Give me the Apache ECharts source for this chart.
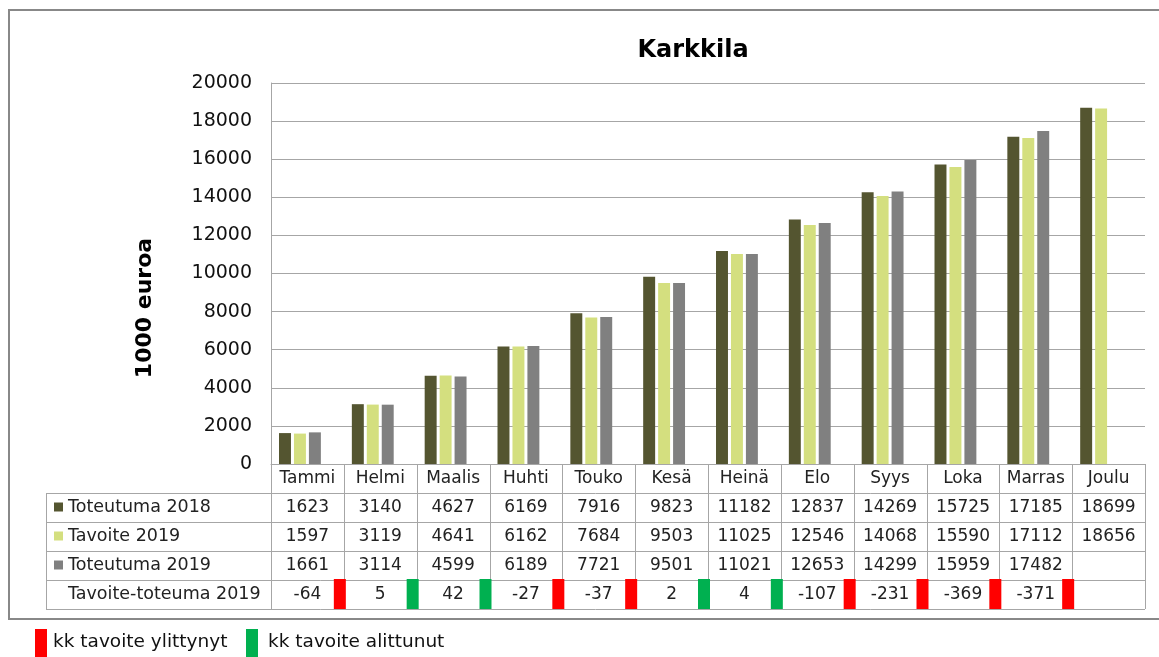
<!DOCTYPE html>
<html>
<head>
<meta charset="utf-8">
<script src="https://cdn.jsdelivr.net/npm/echarts@6/dist/echarts.min.js"></script>
<style>
  html, body { margin: 0; padding: 0; background: #fff; }
  #main { width: 1159px; height: 657px; }
</style>
</head>
<body>
<div id="main"></div>
<script>
const months = ['Tammi', 'Helmi', 'Maalis', 'Huhti', 'Touko', 'Kesä', 'Heinä', 'Elo', 'Syys', 'Loka', 'Marras', 'Joulu'];
const toteuma2018 = [1623, 3140, 4627, 6169, 7916, 9823, 11182, 12837, 14269, 15725, 17185, 18699];
const tavoite2019 = [1597, 3119, 4641, 6162, 7684, 9503, 11025, 12546, 14068, 15590, 17112, 18656];
const toteuma2019 = [1661, 3114, 4599, 6189, 7721, 9501, 11021, 12653, 14299, 15959, 17482, null];
const erotus2019 = [-64, 5, 42, -27, -37, 2, 4, -107, -231, -369, -371, null];
const seriesNames = ['Toteutuma 2018', 'Tavoite 2019', 'Toteutuma 2019', 'Tavoite-toteuma 2019'];
const seriesColors = ['#545530', '#d4df7f', '#808080', 'rgba(0,0,0,0)'];
const legendLabels = ['kk tavoite ylittynyt', 'kk tavoite alittunut'];
const yMin = 0, yMax = 20000, yStep = 2000;

const FONT = '"DejaVu Sans", Verdana, sans-serif';
const RED = '#ff0000';
const GREEN = '#00b050';
const LINE = '#a6a6a6';

const chart = echarts.init(document.getElementById('main'));

const seriesData = [toteuma2018, tavoite2019, toteuma2019, erotus2019];

chart.setOption({
  animation: false,
  textStyle: { fontFamily: FONT },
  title: {
    text: 'Karkkila',
    left: 688,
    top: 34,
    textAlign: 'center',
    textStyle: { fontSize: 24, fontWeight: 'bold', color: '#000', fontFamily: FONT }
  },
  grid: { left: 271, right: 14, top: 83, bottom: 193 },
  xAxis: {
    type: 'category',
    data: months,
    axisLine: { lineStyle: { color: LINE } },
    axisTick: { show: false },
    axisLabel: { interval: 0, margin: 6, fontSize: 17, color: '#222', fontFamily: FONT }
  },
  yAxis: {
    type: 'value',
    min: yMin,
    max: yMax,
    interval: yStep,
    axisLine: { show: true, lineStyle: { color: LINE } },
    splitLine: { lineStyle: { color: LINE } },
    axisLabel: { fontSize: 19, margin: 19, color: '#111', fontFamily: FONT, formatter: v => String(v) }
  },
  series: seriesData.map((d, i) => ({
    name: seriesNames[i],
    type: 'bar',
    data: d,
    barGap: '25%',
    barCategoryGap: '22%',
    itemStyle: { color: seriesColors[i] },
    silent: i === 3
  }))
});

// data table under the axis, placed from the axis's own pixel positions
function buildTable() {
  const centers = months.map((m, i) => chart.convertToPixel({ xAxisIndex: 0 }, i));
  const bw = centers[1] - centers[0];
  const bounds = centers.map(c => c - bw / 2).concat([centers[centers.length - 1] + bw / 2]);
  const yTop = chart.convertToPixel({ yAxisIndex: 0 }, yMin);
  const rowH = 29;
  const tableLeft = 46;
  const rightX = bounds[bounds.length - 1];
  const bottomY = yTop + rowH * 5;
  const g = [];
  const lineStyle = { stroke: LINE, lineWidth: 1 };

  for (let r = 1; r <= 5; r++) {
    const y = Math.round(yTop + rowH * r) + 0.5;
    g.push({ type: 'line', shape: { x1: tableLeft, y1: y, x2: rightX, y2: y }, style: lineStyle, silent: true });
  }
  g.push({ type: 'line', shape: { x1: tableLeft + 0.5, y1: yTop + rowH, x2: tableLeft + 0.5, y2: bottomY }, style: lineStyle, silent: true });
  bounds.forEach(b => {
    const x = Math.round(b) + 0.5;
    g.push({ type: 'line', shape: { x1: x, y1: yTop, x2: x, y2: bottomY }, style: lineStyle, silent: true });
  });

  seriesNames.forEach((name, r) => {
    const cy = yTop + rowH * (r + 1) + rowH / 2;
    if (r < 3) {
      g.push({ type: 'rect', shape: { x: 54, y: cy - 5, width: 9, height: 9 }, style: { fill: seriesColors[r] }, silent: true });
    }
    g.push({
      type: 'text', x: 68, y: cy,
      style: { text: name, font: '17.5px ' + FONT, fill: '#222', verticalAlign: 'middle', align: 'left' },
      silent: true
    });
    seriesData[r].forEach((v, i) => {
      if (v === null) return;
      g.push({
        type: 'text', x: centers[i], y: cy,
        style: { text: String(v), font: '17px ' + FONT, fill: '#222', verticalAlign: 'middle', align: 'center' },
        silent: true
      });
      if (r === 3) {
        g.push({
          type: 'rect',
          shape: { x: bounds[i + 1] - 10, y: yTop + rowH * 4 - 1, width: 12, height: 30 },
          style: { fill: v < 0 ? RED : GREEN },
          silent: true
        });
      }
    });
  });

  // value axis title, centred over chart and table like the original
  g.push({
    type: 'text', x: 145, y: 308, rotation: Math.PI / 2,
    style: { text: '1000 euroa', font: 'bold 22px ' + FONT, fill: '#000', align: 'center', verticalAlign: 'middle' },
    silent: true
  });

  // outer frame
  g.push({ type: 'rect', shape: { x: 9, y: 10, width: 1200, height: 609 }, style: { fill: 'none', stroke: '#888', lineWidth: 2 }, silent: true });

  // explanation of marker colours
  const legendX = [35, 246];
  const legendColors = [RED, GREEN];
  legendLabels.forEach((t, i) => {
    g.push({ type: 'rect', shape: { x: legendX[i], y: 629, width: 12, height: 28 }, style: { fill: legendColors[i] }, silent: true });
    g.push({
      type: 'text', x: legendX[i] + 18 + (i === 1 ? 4 : 0), y: 642,
      style: { text: t, font: '18.5px ' + FONT, fill: '#111', verticalAlign: 'middle', align: 'left' },
      silent: true
    });
  });

  chart.setOption({ graphic: g });
}

buildTable();
</script>
</body>
</html>
